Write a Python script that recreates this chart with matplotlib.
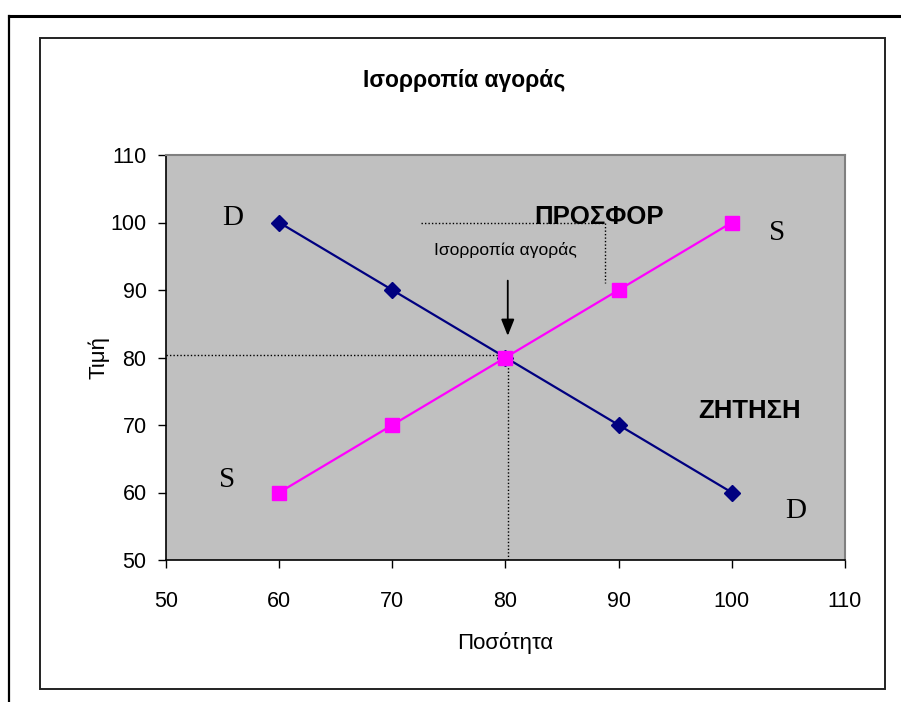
import matplotlib
matplotlib.use("Agg")
import matplotlib.pyplot as plt
from matplotlib.lines import Line2D
from matplotlib.patches import Rectangle

quantity = [60, 70, 80, 90, 100]
demand_price = [100, 90, 80, 70, 60]
supply_price = [60, 70, 80, 90, 100]
x_ticks = [50, 60, 70, 80, 90, 100, 110]
y_ticks = [50, 60, 70, 80, 90, 100, 110]
eq_q, eq_p = 80, 80

sans = ['Liberation Sans', 'DejaVu Sans']
serif = ['Liberation Serif', 'DejaVu Serif']
plt.rcParams['font.family'] = sans

W, H = 901, 702
fig = plt.figure(figsize=(W / 100, H / 100), dpi=100)

def fx(px):
    return px / W

def fy(py):
    return 1 - py / H

# outer page frame
fig.add_artist(Line2D([fx(9), 1], [fy(16), fy(16)], color='black', lw=2.2))
fig.add_artist(Line2D([fx(9), fx(9)], [fy(16), 0], color='black', lw=1.6))
# chart area box
fig.add_artist(Rectangle((fx(40), fy(689)), fx(885) - fx(40), fy(38) - fy(689),
                         fill=False, edgecolor='#222222', lw=1.4))

L, R, T, B = 166, 845, 155, 560
ax = fig.add_axes([fx(L), fy(B), fx(R) - fx(L), fy(T) - fy(B)])
ax.set_facecolor('#C0C0C0')
ax.set_xlim(50, 110)
ax.set_ylim(50, 110)
ax.set_xticks(x_ticks)
ax.set_yticks(y_ticks)
ax.tick_params(direction='out', length=6, width=1, labelsize=15.5)
ax.tick_params(axis='x', pad=16)
ax.tick_params(axis='y', pad=8)
for s in ['left', 'bottom']:
    ax.spines[s].set_color('black')
    ax.spines[s].set_linewidth(1.2)
for s in ['top', 'right']:
    ax.spines[s].set_color('#808080')
    ax.spines[s].set_linewidth(1.5)

ax.plot(quantity, demand_price, color='#000080', lw=1.6, marker='D',
        markersize=8, markerfacecolor='#000080', markeredgecolor='#000080', zorder=3)
ax.plot(quantity, supply_price, color='#FF00FF', lw=1.6, marker='s',
        markersize=10.5, markerfacecolor='#FF00FF', markeredgecolor='#FF00FF', zorder=4)

# equilibrium guides
ax.plot([50, eq_q], [eq_p + 0.4, eq_p + 0.4], color='black', lw=1, ls=(0, (1, 1.5)), zorder=2)
ax.plot([eq_q + 0.2, eq_q + 0.2], [50, eq_p], color='black', lw=1, ls=(0, (1, 1.5)), zorder=2)
ax.plot([72.5, 88.8, 88.8], [100, 100, 91], color='black', lw=1, ls=(0, (1, 1.5)), zorder=2)

ax.annotate('', xy=(80.2, 82.8), xytext=(80.2, 91.8),
            arrowprops=dict(arrowstyle='-|>,head_length=1.0,head_width=0.4',
                            color='black', lw=1.3))
ax.text(80, 96.0, 'Ισορροπία αγοράς', ha='center', va='center', fontsize=12.5)
ax.text(88.3, 100.8, 'ΠΡΟΣΦΟΡ', ha='center', va='center', fontsize=18.5, fontweight='bold')
ax.text(101.6, 72.1, 'ΖΗΤΗΣΗ', ha='center', va='center', fontsize=18.5, fontweight='bold')

ax.text(55.9, 100.7, 'D', family=serif, fontsize=21, ha='center', va='center')
ax.text(105.6, 57.3, 'D', family=serif, fontsize=21, ha='center', va='center')
ax.text(104.0, 98.4, 'S', family=serif, fontsize=21, ha='center', va='center')
ax.text(55.4, 61.9, 'S', family=serif, fontsize=21, ha='center', va='center')

ax.set_xlabel('Ποσότητα', fontsize=16, labelpad=15)
ax.set_ylabel('Τιμή', fontsize=16, labelpad=1)
fig.text(fx(464), fy(80), 'Ισορροπία αγοράς', ha='center', va='center',
         fontsize=16.5, fontweight='bold')

fig.savefig('out.png', dpi=100)
